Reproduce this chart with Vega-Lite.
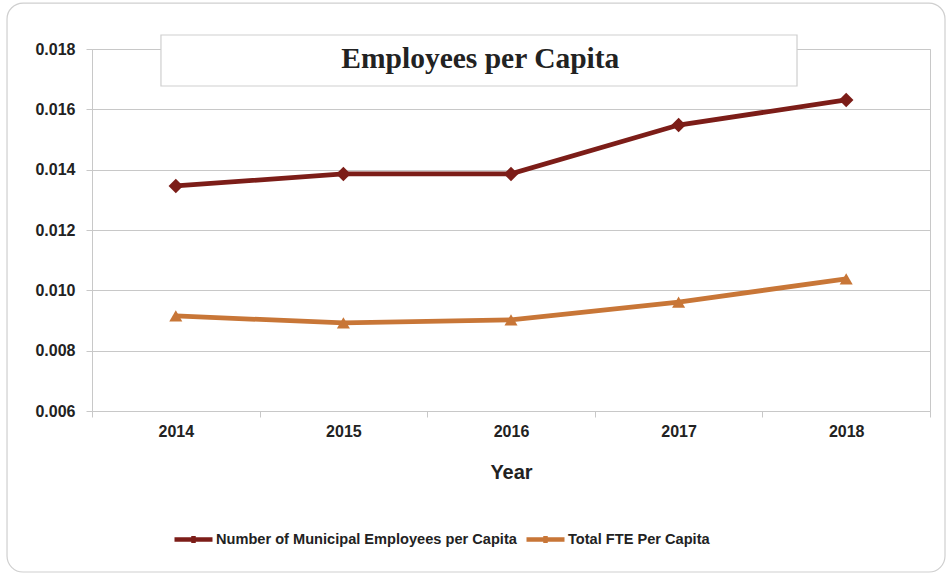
{
  "$schema": "https://vega.github.io/schema/vega-lite/v6.json",
  "width": 838,
  "height": 362,
  "autosize": {"type": "none"},
  "padding": {"left": 92, "top": 49, "right": 16, "bottom": 164},
  "background": "white",
  "config": {
    "view": {"stroke": "#c8c8c8", "strokeWidth": 1},
    "font": "Liberation Sans"
  },
  "datasets": {
    "series": [
      {"year": "2014", "series": "Number of Municipal Employees per Capita", "value": 0.01346},
      {"year": "2015", "series": "Number of Municipal Employees per Capita", "value": 0.01386},
      {"year": "2016", "series": "Number of Municipal Employees per Capita", "value": 0.01386},
      {"year": "2017", "series": "Number of Municipal Employees per Capita", "value": 0.01548},
      {"year": "2018", "series": "Number of Municipal Employees per Capita", "value": 0.01631},
      {"year": "2014", "series": "Total FTE Per Capita", "value": 0.00915},
      {"year": "2015", "series": "Total FTE Per Capita", "value": 0.00892},
      {"year": "2016", "series": "Total FTE Per Capita", "value": 0.00902},
      {"year": "2017", "series": "Total FTE Per Capita", "value": 0.00961},
      {"year": "2018", "series": "Total FTE Per Capita", "value": 0.01038}
    ],
    "frame": [{"x0": -0.1014, "x1": 1.0179, "y0": 1.127, "y1": -0.4448}],
    "titlebox": [{"x0": 0.0823, "x1": 0.8413, "y0": 1.0387, "y1": 0.8978}],
    "titletext": [{"label": "Employees per Capita", "x": 0.4634, "y": 0.9724}]
  },
  "layer": [
    {
      "layer": [
        {
          "data": {"name": "frame"},
          "mark": {"type": "rect", "fill": null, "fillOpacity": 0, "stroke": "#cfcfcf", "strokeWidth": 1.2, "cornerRadius": 16},
          "encoding": {
            "x": {"field": "x0", "type": "quantitative", "scale": {"domain": [0, 1], "nice": false, "zero": false}, "axis": null},
            "x2": {"field": "x1"},
            "y": {"field": "y0", "type": "quantitative", "scale": {"domain": [0, 1], "nice": false, "zero": false}, "axis": null},
            "y2": {"field": "y1"}
          }
        },
        {
          "data": {"name": "titlebox"},
          "mark": {"type": "rect", "fill": "white", "stroke": "#cfcfcf", "strokeWidth": 1.2},
          "encoding": {
            "x": {"field": "x0", "type": "quantitative"},
            "x2": {"field": "x1"},
            "y": {"field": "y0", "type": "quantitative"},
            "y2": {"field": "y1"}
          }
        },
        {
          "data": {"name": "titletext"},
          "mark": {"type": "text", "font": "Liberation Serif", "fontSize": 29.5, "fontWeight": "bold", "color": "#222222", "align": "center", "baseline": "middle"},
          "encoding": {
            "x": {"field": "x", "type": "quantitative"},
            "y": {"field": "y", "type": "quantitative"},
            "text": {"field": "label"}
          }
        }
      ]
    },
    {
      "data": {"name": "series"},
      "encoding": {
        "x": {
          "field": "year", "type": "ordinal",
          "scale": {"type": "band", "paddingInner": 0, "paddingOuter": 0},
          "axis": {
            "orient": "bottom", "title": "Year", "tickBand": "extent", "grid": false,
            "labelAngle": 0, "labelFont": "Liberation Sans", "labelFontSize": 16, "labelFontWeight": "bold", "labelColor": "#222222",
            "labelPadding": 6, "tickSize": 6, "tickColor": "#c8c8c8", "domainColor": "#c8c8c8",
            "titleFont": "Liberation Sans", "titleFontSize": 20, "titleFontWeight": "bold", "titleColor": "#222222", "titlePadding": 23
          }
        },
        "y": {
          "field": "value", "type": "quantitative",
          "scale": {"domain": [0.006, 0.018], "nice": false, "zero": false},
          "axis": {
            "orient": "left", "title": null, "values": [0.006, 0.008, 0.01, 0.012, 0.014, 0.016, 0.018], "format": ".3f",
            "grid": true, "gridColor": "#c8c8c8", "domainColor": "#c8c8c8", "tickColor": "#c8c8c8", "tickSize": 6,
            "labelFont": "Liberation Sans", "labelFontSize": 16, "labelFontWeight": "bold", "labelColor": "#222222", "labelPadding": 11
          }
        }
      },
      "layer": [
        {
          "mark": {"type": "line", "strokeWidth": 4.8},
          "encoding": {
            "color": {
              "field": "series", "type": "nominal",
              "scale": {"domain": ["Number of Municipal Employees per Capita", "Total FTE Per Capita"], "range": ["#7c1d18", "#c87637"]},
              "legend": {
                "orient": "none", "legendX": 80, "legendY": 469, "direction": "horizontal", "title": null,
                "labelFont": "Liberation Sans", "labelFontSize": 14.6, "labelFontWeight": "bold", "labelColor": "#222222", "labelLimit": 0,
                "symbolType": "M-1,0L1,0M0,-0.18L0,0.18", "symbolSize": 1444, "symbolStrokeWidth": 4.5,
                "labelOffset": 1, "columnPadding": 0
              }
            }
          }
        },
        {
          "transform": [{"filter": "datum.series === 'Number of Municipal Employees per Capita'"}],
          "mark": {"type": "point", "filled": true, "opacity": 1, "shape": "diamond", "color": "#7c1d18", "size": 210}
        },
        {
          "transform": [{"filter": "datum.series === 'Total FTE Per Capita'"}],
          "mark": {"type": "point", "filled": true, "opacity": 1, "shape": "triangle-up", "color": "#c87637", "size": 170}
        }
      ]
    }
  ],
  "resolve": {"scale": {"x": "independent", "y": "independent"}}
}
